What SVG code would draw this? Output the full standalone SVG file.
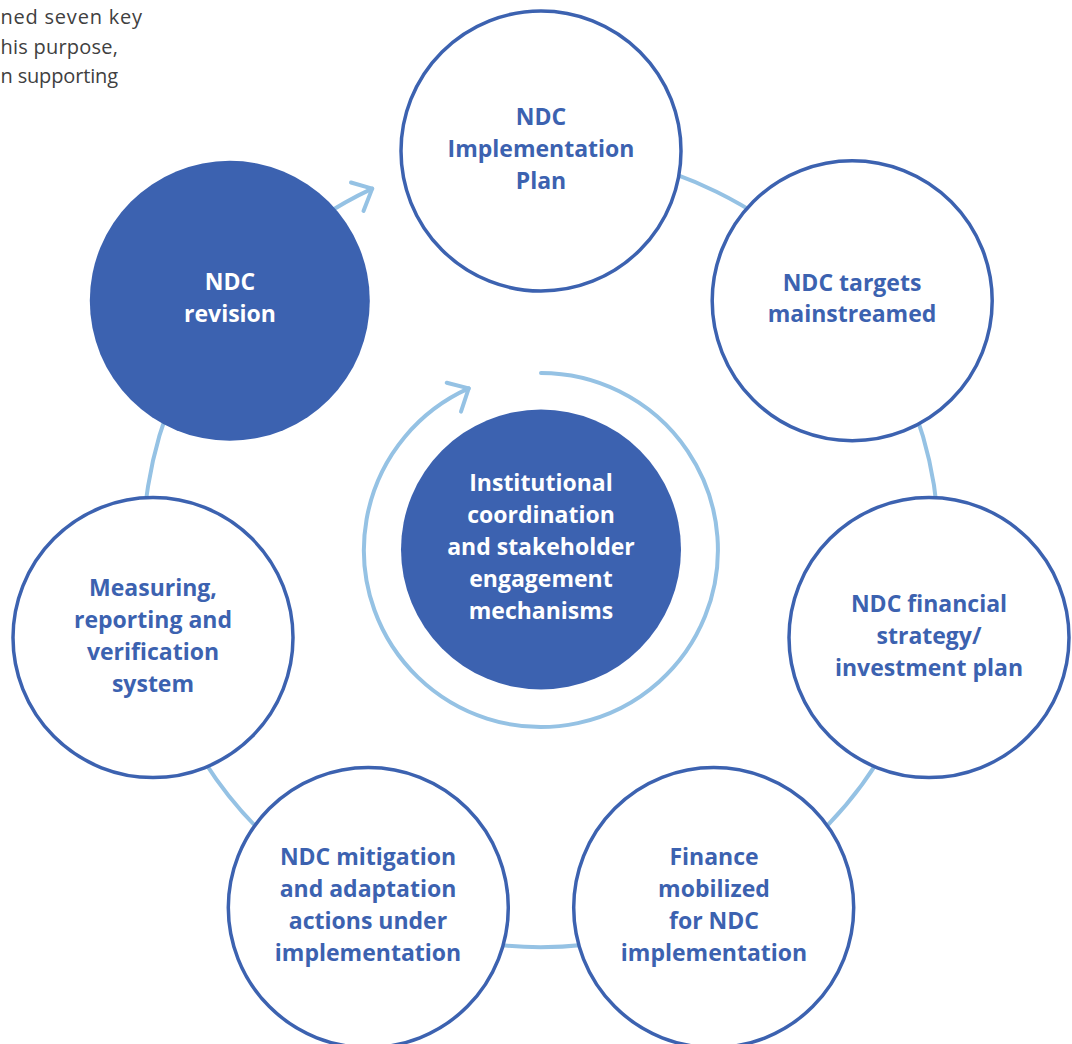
<svg xmlns="http://www.w3.org/2000/svg" width="1072" height="1044" viewBox="0 0 1072 1044">
<style>
.bg{fill:#ffffff}
.ring{fill:none;stroke:#95c2e4;stroke-width:4;stroke-linecap:round;stroke-linejoin:round}
.node{fill:#ffffff;stroke:#3c62b0;stroke-width:3.5}
.nodef{fill:#3c62b0;stroke:none}
.lbl{font-family:"Open Sans","Liberation Sans",sans-serif;font-weight:700;font-size:23px;text-anchor:middle;fill:#3c62b0}
.lblw{font-family:"Open Sans","Liberation Sans",sans-serif;font-weight:700;font-size:23px;text-anchor:middle;fill:#ffffff}
.intro{font-family:"Open Sans","Liberation Sans",sans-serif;font-size:20px;fill:#404040}
</style>
<rect class="bg" x="0" y="0" width="1072" height="1044"/>
<g id="intro">
<text class="intro" x="0.5" y="24" textLength="141.5" lengthAdjust="spacing">ned seven key</text>
<text class="intro" x="0.5" y="53.5" textLength="117.5" lengthAdjust="spacing">his purpose,</text>
<text class="intro" x="0.5" y="83" textLength="117.5" lengthAdjust="spacing">n supporting</text>
</g>
<g id="connectors">
<path class="ring" d="M541,151 A398,398 0 1 1 372.2,188.6"/>
<path class="ring" d="M351,182.5 L372.2,188.6 L363.5,211"/>
<path class="ring" d="M541,373 A177,177 0 1 1 468.7,388.4"/>
<path class="ring" d="M446.7,382.7 L468.7,388.4 L461,411.7"/>
</g>
<g id="node-implementation-plan">
<circle class="node" cx="541" cy="151" r="140"/>
<text class="lbl" x="541" y="125">NDC</text>
<text class="lbl" x="541" y="157">Implementation</text>
<text class="lbl" x="541" y="189">Plan</text>
</g>
<g id="node-targets">
<circle class="node" cx="852.2" cy="300.8" r="140"/>
<text class="lbl" x="852" y="291">NDC targets</text>
<text class="lbl" x="852" y="322">mainstreamed</text>
</g>
<g id="node-financial-strategy">
<circle class="node" cx="929" cy="637.6" r="140"/>
<text class="lbl" x="929" y="612">NDC financial</text>
<text class="lbl" x="929" y="644">strategy/</text>
<text class="lbl" x="929" y="676">investment plan</text>
</g>
<g id="node-finance-mobilized">
<circle class="node" cx="713.7" cy="907.6" r="140"/>
<text class="lbl" x="714" y="865">Finance</text>
<text class="lbl" x="714" y="897">mobilized</text>
<text class="lbl" x="714" y="929">for NDC</text>
<text class="lbl" x="714" y="961">implementation</text>
</g>
<g id="node-mitigation-adaptation">
<circle class="node" cx="368.3" cy="907.6" r="140"/>
<text class="lbl" x="368" y="865">NDC mitigation</text>
<text class="lbl" x="368" y="897">and adaptation</text>
<text class="lbl" x="368" y="929">actions under</text>
<text class="lbl" x="368" y="961">implementation</text>
</g>
<g id="node-mrv">
<circle class="node" cx="153" cy="637.6" r="140"/>
<text class="lbl" x="153" y="596">Measuring,</text>
<text class="lbl" x="153" y="628">reporting and</text>
<text class="lbl" x="153" y="660">verification</text>
<text class="lbl" x="153" y="692">system</text>
</g>
<g id="node-revision">
<circle class="nodef" cx="229.8" cy="300.8" r="140"/>
<text class="lblw" x="230" y="290">NDC</text>
<text class="lblw" x="230" y="322">revision</text>
</g>
<g id="node-institutional">
<circle class="nodef" cx="541" cy="549.5" r="140"/>
<text class="lblw" x="541" y="491">Institutional</text>
<text class="lblw" x="541" y="523">coordination</text>
<text class="lblw" x="541" y="555">and stakeholder</text>
<text class="lblw" x="541" y="587">engagement</text>
<text class="lblw" x="541" y="619">mechanisms</text>
</g>
</svg>
